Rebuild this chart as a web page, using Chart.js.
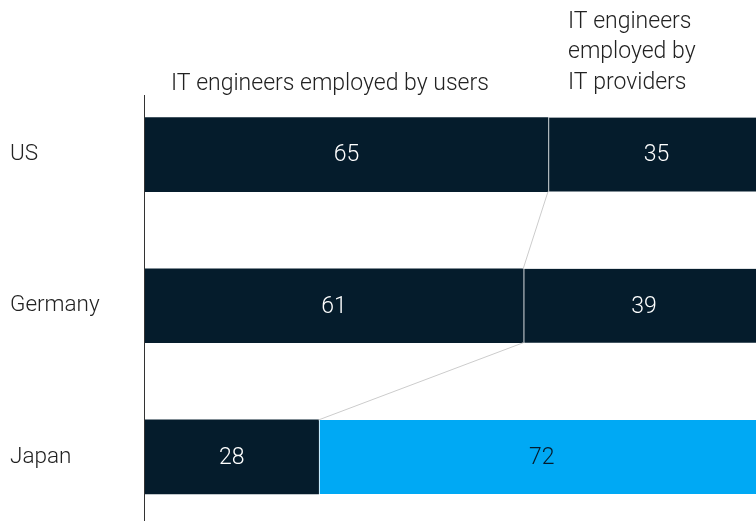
<!DOCTYPE html>
<html>
<head>
<meta charset="utf-8">
<script src="https://cdn.jsdelivr.net/npm/chart.js@4.4.1/dist/chart.umd.min.js"></script>
<style>
html,body{margin:0;padding:0;background:#fff;overflow:hidden;}
canvas{display:block;}
</style>
</head>
<body>
<canvas id="c" width="756" height="546"></canvas>
<script>
const categories = ['US', 'Germany', 'Japan'];
const usersShare = [65, 61, 28];
const providersShare = [35, 39, 72];
const seriesNames = ['IT engineers employed by users', 'IT engineers employed by IT providers'];
const providerHeaderLines = ['IT engineers', 'employed by', 'IT providers'];

const NAVY = '#051c2c';
const BLUE = '#00a9f4';
const FONT = 'Roboto, "Liberation Sans", sans-serif';

const overlay = {
  id: 'overlay',
  afterDatasetsDraw(chart) {
    const ctx = chart.ctx;
    const m0 = chart.getDatasetMeta(0).data;
    const m1 = chart.getDatasetMeta(1).data;
    ctx.save();
    // connector lines between segment boundaries
    ctx.strokeStyle = '#cccccc';
    ctx.lineWidth = 1;
    for (let i = 0; i < m0.length - 1; i++) {
      const a = m0[i], b = m0[i + 1];
      ctx.beginPath();
      ctx.moveTo(a.x, a.y + a.height / 2);
      ctx.lineTo(b.x, b.y - b.height / 2);
      ctx.stroke();
    }
    // value labels
    ctx.font = '300 23px ' + FONT;
    ctx.textAlign = 'center';
    ctx.textBaseline = 'middle';
    [m0, m1].forEach((meta, d) => {
      const colors = chart.data.datasets[d].backgroundColor;
      meta.forEach((el, i) => {
        const bg = Array.isArray(colors) ? colors[i] : colors;
        ctx.fillStyle = bg === BLUE ? NAVY : '#ffffff';
        const v = chart.data.datasets[d].data[i];
        ctx.fillText(String(v), (el.x + el.base) / 2, el.y + 1);
      });
    });
    // axis line
    const ca = chart.chartArea;
    ctx.strokeStyle = '#333333';
    ctx.lineWidth = 1;
    ctx.beginPath();
    ctx.moveTo(ca.left - 0.5, 95);
    ctx.lineTo(ca.left - 0.5, chart.height);
    ctx.stroke();
    // headers
    ctx.fillStyle = '#222222';
    ctx.font = '300 23px ' + FONT;
    ctx.textAlign = 'left';
    ctx.textBaseline = 'middle';
    ctx.fillText(seriesNames[0], 171, 84);
    providerHeaderLines.forEach((t, k) => ctx.fillText(t, 568, 22 + k * 30.5));
    ctx.restore();
  }
};

new Chart(document.getElementById('c'), {
  type: 'bar',
  data: {
    labels: categories,
    datasets: [
      { label: seriesNames[0], data: usersShare, backgroundColor: NAVY, borderWidth: 0 },
      { label: seriesNames[1], data: providersShare,
        backgroundColor: [NAVY, NAVY, BLUE],
        borderColor: '#ffffff', borderWidth: { left: 1.5, right: 0, top: 0, bottom: 0 }, borderSkipped: false }
    ]
  },
  options: {
    indexAxis: 'y',
    responsive: false,
    animation: false,
    layout: { padding: { left: 10, right: 0, top: 79, bottom: 8.5 } },
    datasets: { bar: { categoryPercentage: 1, barThickness: 74 } },
    plugins: { legend: { display: false }, tooltip: { enabled: false } },
    scales: {
      x: { stacked: true, min: 0, max: 98.55, display: false },
      y: {
        stacked: true,
        grid: { display: false },
        border: { display: false },
        ticks: { crossAlign: 'far', color: '#222222', font: { family: FONT, size: 22.5, weight: '300' }, padding: 0 },
        afterFit(scale) { scale.width = 135; }
      }
    }
  },
  plugins: [overlay]
});
</script>
</body>
</html>
